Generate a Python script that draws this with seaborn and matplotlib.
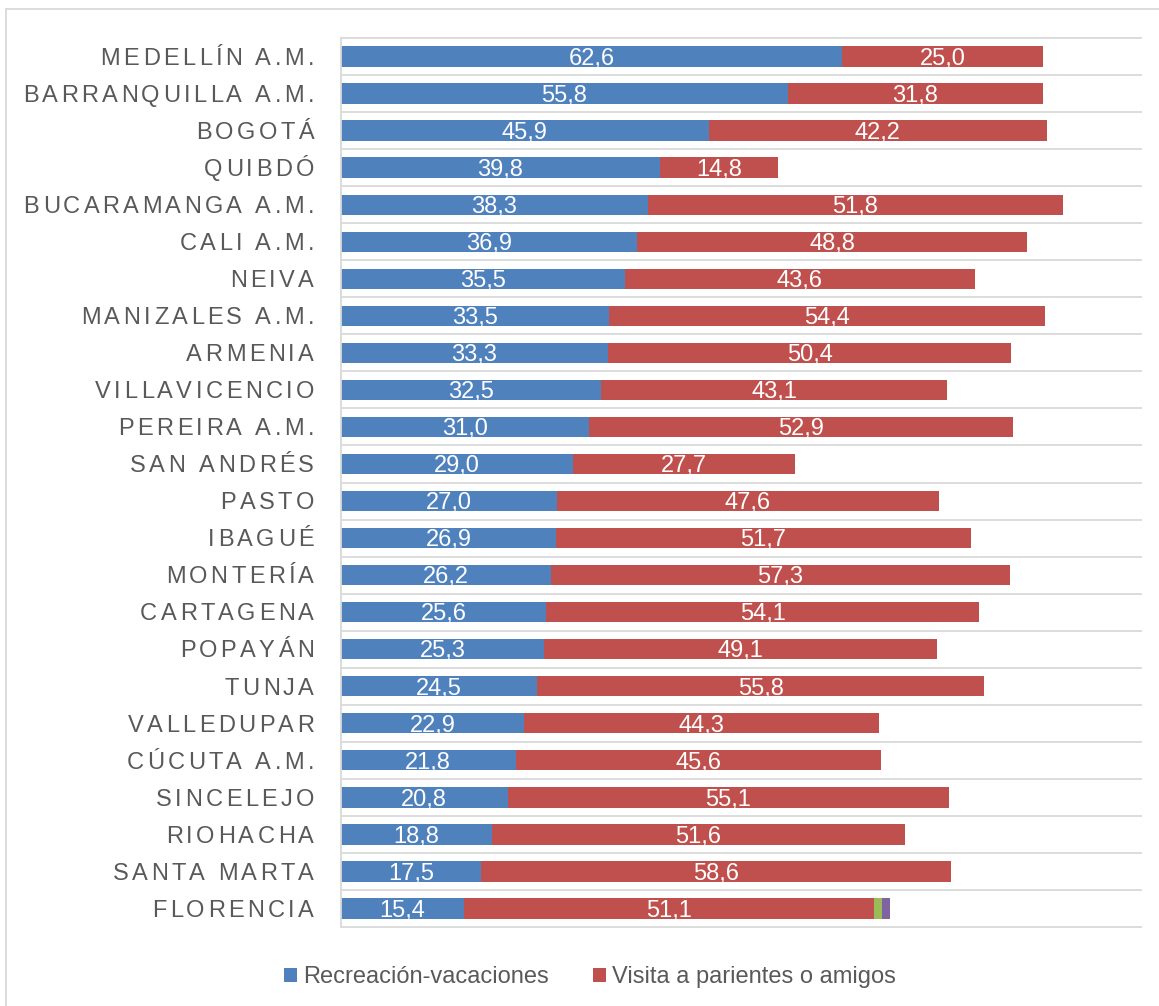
import numpy as np
import pandas as pd
import matplotlib
matplotlib.use("Agg")
import matplotlib.pyplot as plt
import matplotlib.transforms as mtransforms
from matplotlib.lines import Line2D
from matplotlib.patches import Patch
from matplotlib.font_manager import FontProperties, findfont
from matplotlib.ft2font import FT2Font
import seaborn as sns

# ---------------- data ----------------
cities = ["MEDELLÍN A.M.", "BARRANQUILLA A.M.", "BOGOTÁ", "QUIBDÓ", "BUCARAMANGA A.M.",
          "CALI A.M.", "NEIVA", "MANIZALES A.M.", "ARMENIA", "VILLAVICENCIO",
          "PEREIRA A.M.", "SAN ANDRÉS", "PASTO", "IBAGUÉ", "MONTERÍA", "CARTAGENA",
          "POPAYÁN", "TUNJA", "VALLEDUPAR", "CÚCUTA A.M.", "SINCELEJO", "RIOHACHA",
          "SANTA MARTA", "FLORENCIA"]
recreacion = [62.6, 55.8, 45.9, 39.8, 38.3, 36.9, 35.5, 33.5, 33.3, 32.5, 31.0, 29.0,
              27.0, 26.9, 26.2, 25.6, 25.3, 24.5, 22.9, 21.8, 20.8, 18.8, 17.5, 15.4]
visita = [25.0, 31.8, 42.2, 14.8, 51.8, 48.8, 43.6, 54.4, 50.4, 43.1, 52.9, 27.7,
          47.6, 51.7, 57.3, 54.1, 49.1, 55.8, 44.3, 45.6, 55.1, 51.6, 58.6, 51.1]
otro1 = [0]*23 + [1.0]
otro2 = [0]*23 + [1.0]
series_names = ["Recreación-vacaciones", "Visita a parientes o amigos", "Otro 1", "Otro 2"]

colors = ["#4F81BD", "#C0504D", "#9BBB59", "#8064A2"]
text_gray = "#595959"
grid_gray = "#D9D9D9"
FONT = "Liberation Sans"
FS = 17

df = pd.DataFrame({"ciudad": cities, series_names[0]: recreacion,
                   series_names[1]: visita, series_names[2]: otro1,
                   series_names[3]: otro2})

# ---------------- figure ----------------
sns.set_theme(style="white")
plt.rcParams["font.family"] = [FONT, "DejaVu Sans"]

W, H = 1159, 1006
fig = plt.figure(figsize=(W / 100, H / 100), dpi=100)
ax_l, ax_r, ax_t, ax_b = 341, 1142, 38, 927
ax = fig.add_axes([ax_l / W, 1 - ax_b / H, (ax_r - ax_l) / W, (ax_b - ax_t) / H])

# stacked bars drawn as cumulative layers (back to front)
cum = df[series_names].cumsum(axis=1)
for k in range(len(series_names) - 1, -1, -1):
    sns.barplot(x=cum[series_names[k]], y=df["ciudad"], orient="h", color=colors[k],
                saturation=1, width=0.55, errorbar=None, linewidth=0, ax=ax, zorder=2)

n = len(cities)
ax.set_xlim(0, 100)
ax.set_ylim(n - 0.5, -0.5)
ax.hlines(np.arange(n + 1) - 0.5, 0, 100, color=grid_gray, lw=1.3, zorder=1, clip_on=False)
for s in ["top", "right", "bottom"]:
    ax.spines[s].set_visible(False)
ax.spines["left"].set_color(grid_gray)
ax.spines["left"].set_linewidth(1.3)
ax.set_xticks([])
ax.set_yticks([])
ax.set_xlabel("")
ax.set_ylabel("")

# data labels (white, centred in segments)
base_px = 8.3  # baseline offset below bar centre, pixels
lab_trans = mtransforms.offset_copy(ax.transData, fig=fig, x=0, y=-base_px * 0.72, units="points")
lefts = np.zeros(n)
for k, vals in enumerate([recreacion, visita]):
    for i, v in enumerate(vals):
        ax.text(lefts[i] + v / 2, i, f"{v:.1f}".replace(".", ","), ha="center", va="baseline",
                color="white", fontsize=FS, family=[FONT, "DejaVu Sans"],
                transform=lab_trans, zorder=5)
    lefts += np.array(vals)

# category labels with letter spacing, drawn char by char
fp = FontProperties(family=FONT, size=FS)
font = FT2Font(findfont(fp))
font.set_size(FS, 100)
try:
    from matplotlib.ft2font import LoadFlags
    flag = LoadFlags.NO_HINTING
except Exception:
    from matplotlib.ft2font import LOAD_NO_HINTING as flag


def adv(c):
    g = font.load_char(ord(c), flags=flag)
    return g.linearHoriAdvance / 65536


track = 3.35
right_px = 314
ytrans = mtransforms.blended_transform_factory(fig.transFigure, ax.transData)
ytrans = mtransforms.offset_copy(ytrans, fig=fig, x=0, y=-base_px * 0.72, units="points")
for i, name in enumerate(cities):
    advs = [adv(c) for c in name]
    total = sum(advs) + track * (len(name) - 1)
    x = right_px - total
    for c, a in zip(name, advs):
        if c != " ":
            fig.text(x / W, i, c, ha="left", va="baseline", color=text_gray,
                     fontsize=FS, family=[FONT, "DejaVu Sans"], transform=ytrans)
        x += a + track

# legend
handles = [Patch(facecolor=colors[0], edgecolor="none"),
           Patch(facecolor=colors[1], edgecolor="none")]
fig.legend(handles, series_names[:2], loc="center", bbox_to_anchor=(590 / W, 1 - 977 / H),
           ncol=2, frameon=False, fontsize=FS, labelcolor=text_gray,
           handlelength=0.55, handleheight=0.55, handletextpad=0.25, columnspacing=1.9,
           prop={"family": [FONT, "DejaVu Sans"], "size": FS})

# outer chart border
fig.add_artist(Line2D([6 / W, 6 / W], [0, 1 - 9 / H], transform=fig.transFigure,
                      color=grid_gray, lw=1.3))
fig.add_artist(Line2D([6 / W, 1], [1 - 9 / H, 1 - 9 / H], transform=fig.transFigure,
                      color=grid_gray, lw=1.3))

fig.savefig("out.png", dpi=100)
